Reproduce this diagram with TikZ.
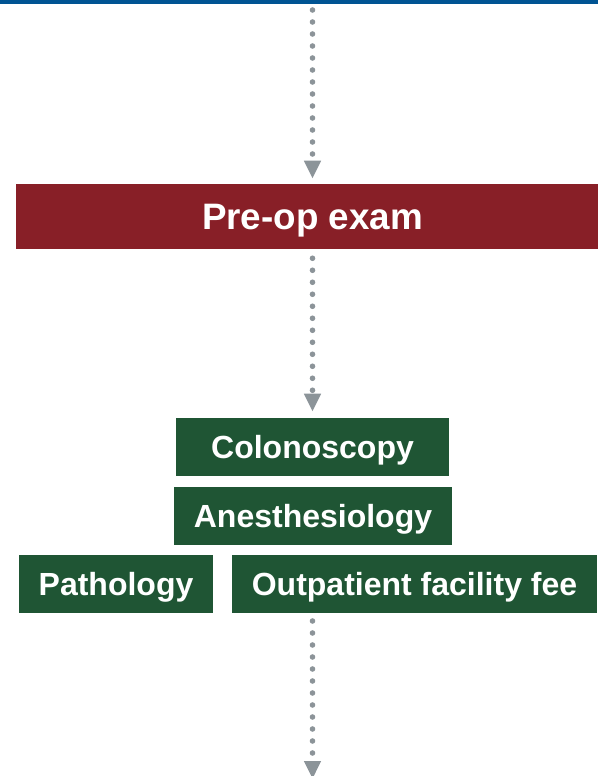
\documentclass[tikz,border=0pt]{standalone}
\usepackage{fontspec}
\setmainfont{Liberation Sans}
\usetikzlibrary{arrows.meta}
\definecolor{topblue}{HTML}{005493}
\definecolor{examred}{HTML}{881F27}
\definecolor{stepgreen}{HTML}{1F5534}
\definecolor{dotgray}{HTML}{8C9499}
\tikzset{
  redbox/.style={fill=examred,text=white,font=\bfseries\fontsize{27.6}{30}\selectfont,inner sep=0pt,text depth=0pt},
  greenbox/.style={fill=stepgreen,text=white,font=\bfseries\fontsize{24}{28}\selectfont,inner sep=0pt,text depth=0pt,minimum height=43.5pt},
  dotline/.style={draw=dotgray,line width=4.2pt,line cap=round,dash pattern=on 0pt off 9pt,
    -{Triangle[width=12pt,length=13.5pt]}}
}
\begin{document}
\begin{tikzpicture}[x=0.75pt,y=-0.75pt]
		\clip (0,0) rectangle (598,776);
		\useasboundingbox (0,0) rectangle (598,776);
		\fill[topblue] (0,0) rectangle (598,3.5);
		\node[redbox,minimum width=444.75pt,minimum height=48.75pt] (pre) at (312.5,216.5) {Pre-op exam};
		\node[greenbox,minimum width=204.75pt] (colon) at (312.5,447) {Colonoscopy};
		\node[greenbox,minimum width=208.5pt] (anest) at (313,516) {Anesthesiology};
		\node[greenbox,minimum width=145.5pt] (patho) at (116,584) {Pathology};
		\node[greenbox,minimum width=273.75pt] (outpat) at (414.5,584) {Outpatient facility fee};
		\coordinate (start) at (312.5,10);
		\coordinate (stackend) at (312.5,613);
		\coordinate (finish) at (312.5,779);
		\draw[dotline,shorten >=3.75pt] (start) -- (pre.north);
		\draw[dotline,shorten <=6.75pt,shorten >=4.5pt] (pre.south) -- (colon.north);
		\draw[dotline,shorten <=6pt] (stackend) -- (finish);
		\end{tikzpicture}
\end{document}
